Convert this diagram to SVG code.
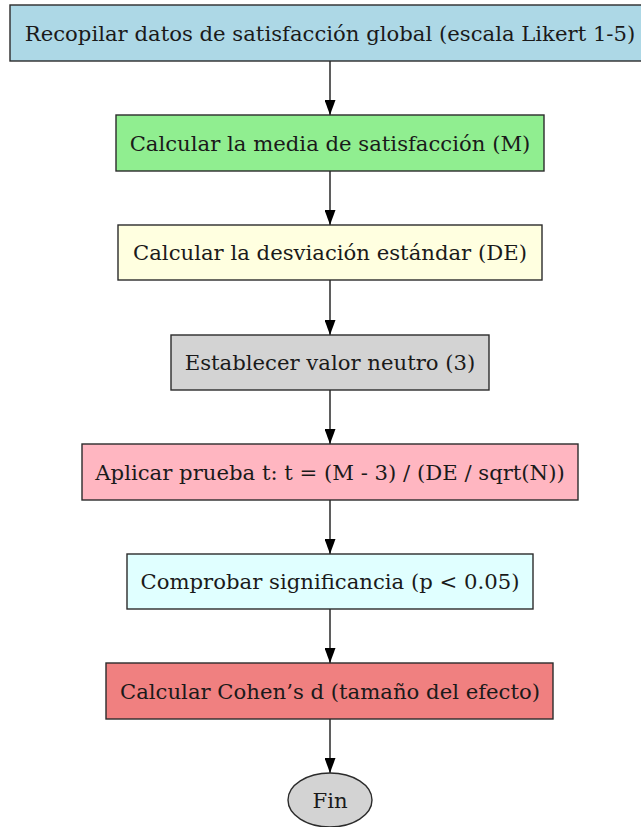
<svg xmlns="http://www.w3.org/2000/svg" width="641" height="827" viewBox="0 0 641 827">
<style>
.n rect, .n ellipse { stroke: #2b2b2b; stroke-width: 1.4; }
.n text { font-family: "DejaVu Serif", serif; font-size: 21.2px; fill: #1a1a1a; text-anchor: middle; dominant-baseline: central; }
.e line { stroke: #1a1a1a; stroke-width: 1.4; }
</style>
<defs>
<marker id="arr" viewBox="0 0 15 11" refX="15" refY="5.5" markerWidth="15" markerHeight="11" markerUnits="userSpaceOnUse" orient="auto">
<path d="M0,0 L15,5.5 L0,11 z" fill="#000"/>
</marker>
</defs>
<g class="e">
<line x1="330" y1="61" x2="330" y2="115" marker-end="url(#arr)"/>
<line x1="330" y1="171" x2="330" y2="225" marker-end="url(#arr)"/>
<line x1="330" y1="280" x2="330" y2="335" marker-end="url(#arr)"/>
<line x1="330" y1="390" x2="330" y2="444" marker-end="url(#arr)"/>
<line x1="330" y1="500" x2="330" y2="554" marker-end="url(#arr)"/>
<line x1="330" y1="609" x2="330" y2="663" marker-end="url(#arr)"/>
<line x1="330" y1="719" x2="330" y2="773" marker-end="url(#arr)"/>
</g>
<g class="n" id="n1"><rect x="10" y="5" width="640" height="56" fill="#add8e6"/><text x="330" y="33">Recopilar datos de satisfacción global (escala Likert 1-5)</text></g>
<g class="n" id="n2"><rect x="116" y="115" width="428" height="56" fill="#90ee90"/><text x="330" y="143">Calcular la media de satisfacción (M)</text></g>
<g class="n" id="n3"><rect x="118" y="225" width="424" height="55" fill="#ffffe0"/><text x="330" y="252.5">Calcular la desviación estándar (DE)</text></g>
<g class="n" id="n4"><rect x="171" y="335" width="318" height="55" fill="#d3d3d3"/><text x="330" y="362.5">Establecer valor neutro (3)</text></g>
<g class="n" id="n5"><rect x="82" y="444" width="496" height="56" fill="#ffb6c1"/><text x="330" y="472">Aplicar prueba t: t = (M - 3) / (DE / sqrt(N))</text></g>
<g class="n" id="n6"><rect x="127" y="554" width="406" height="55" fill="#e0ffff"/><text x="330" y="581.5">Comprobar significancia (p &lt; 0.05)</text></g>
<g class="n" id="n7"><rect x="106" y="663" width="447" height="56" fill="#f08080"/><text x="330" y="691">Calcular Cohen’s d (tamaño del efecto)</text></g>
<g class="n" id="n8"><ellipse cx="330" cy="800" rx="42" ry="27" fill="#d3d3d3"/><text x="330" y="800">Fin</text></g>
</svg>
